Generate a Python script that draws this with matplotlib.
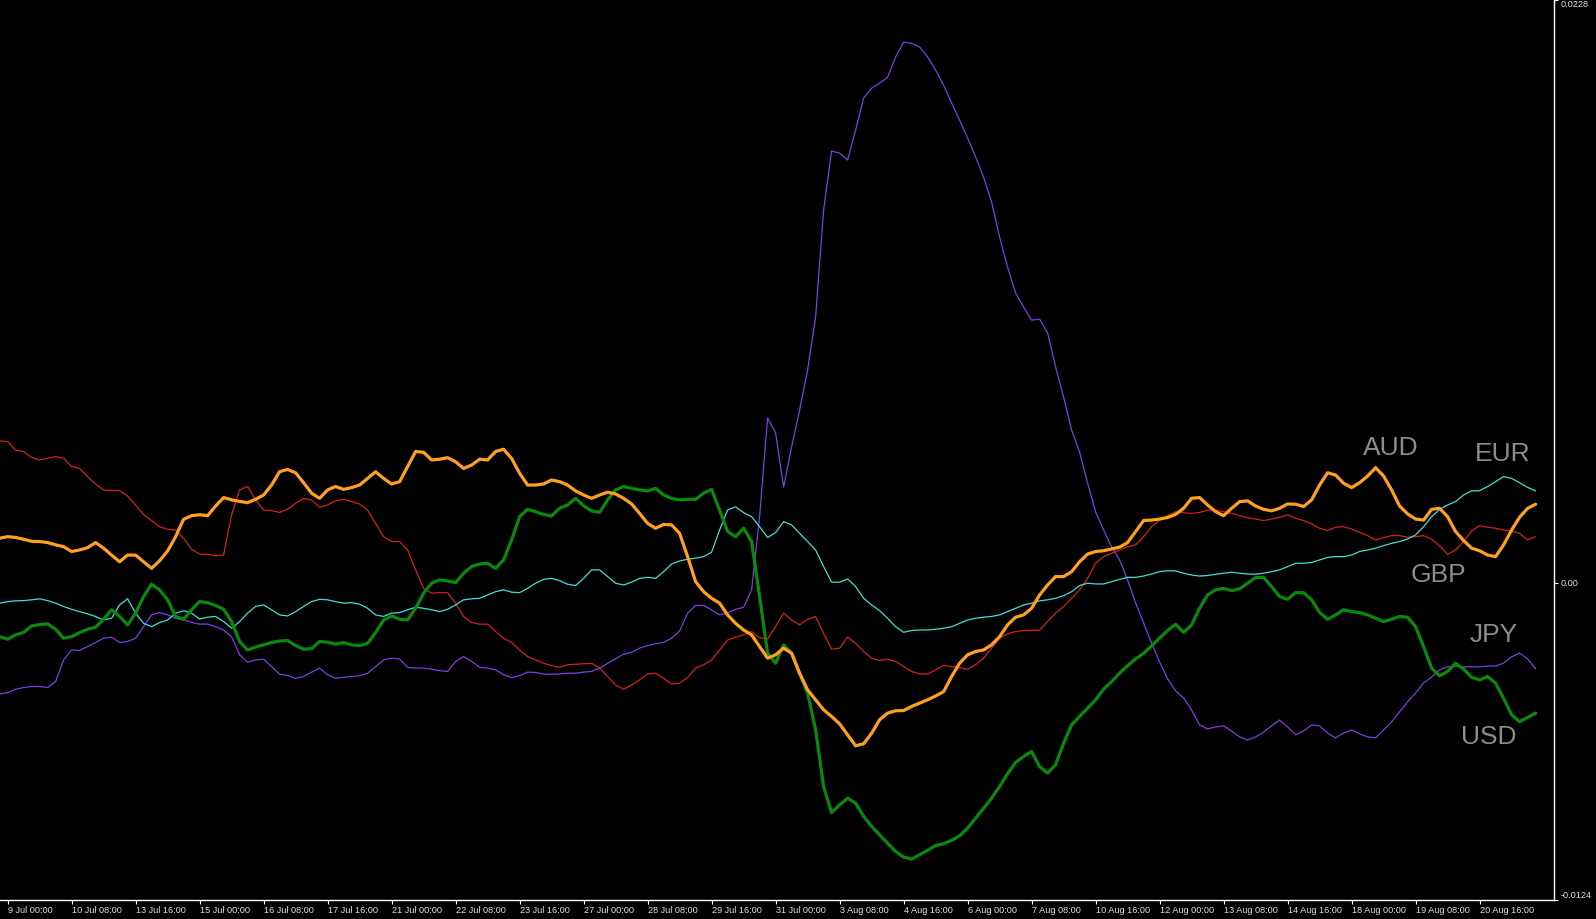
import numpy as np
import matplotlib
matplotlib.use("Agg")
import matplotlib.pyplot as plt

plt.rcParams['font.family'] = ['Liberation Sans', 'DejaVu Sans']

# H4 bars, index -1 (8 Jul 20:00) .. 191 (21 Aug 20:00); values in units of 1e-4
SCALE = 1e-4
FIRST_BAR = -1

tick_bars = list(range(0, 185, 8))
tick_labels = ["9 Jul 00:00", "10 Jul 08:00", "13 Jul 16:00", "15 Jul 00:00", "16 Jul 08:00",
               "17 Jul 16:00", "21 Jul 00:00", "22 Jul 08:00", "23 Jul 16:00", "27 Jul 00:00",
               "28 Jul 08:00", "29 Jul 16:00", "31 Jul 00:00", "3 Aug 08:00", "4 Aug 16:00",
               "6 Aug 00:00", "7 Aug 08:00", "10 Aug 16:00", "12 Aug 00:00", "13 Aug 08:00",
               "14 Aug 16:00", "18 Aug 00:00", "19 Aug 08:00", "20 Aug 16:00"]

y_ticks = [0.0228, 0.0, -0.0124]
y_tick_labels = ["0.0228", "0.00", "-0.0124"]

AUD = [17.5, 18.1, 17.8, 17.1, 16.3, 16.2, 15.8, 14.9, 14.2, 12.3, 12.9,
       13.8, 15.8, 13.6, 10.9, 8.3, 10.9, 10.9, 8.3, 5.7, 8.7,
       12.5, 18.1, 24.9, 26.3, 26.7, 26.3, 30.1, 33.4, 32.5, 31.9,
       31.4, 32.7, 34.4, 38.3, 43.5, 44.4, 43.1, 39.2, 35.1, 33.1,
       36.4, 37.7, 36.6, 37.3, 38.3, 40.9, 43.5, 40.9, 38.7, 39.6,
       45.5, 51.4, 51.1, 48.1, 48.4, 49.0, 47.4, 44.8, 46.1, 48.4,
       48.1, 51.4, 52.3, 48.7, 42.9, 38.3, 38.3, 38.7, 40.3, 39.6,
       38.3, 36.0, 34.4, 33.1, 34.4, 35.5, 34.8, 33.1, 30.9, 27.2,
       23.3, 21.4, 22.9, 22.7, 19.4, 10.3, 0.5, -3.4, -6.0, -7.9,
       -12.5, -15.8, -18.4, -20.3, -24.9, -29.4, -28.1, -25.5, -27.5, -35.3,
       -41.8, -45.7, -49.6, -52.2, -55.1, -59.4, -63.7, -62.9, -58.8, -53.5,
       -50.9, -50.0, -49.9, -48.3, -47.0, -45.7, -44.2, -42.5, -36.6, -31.4,
       -28.1, -26.8, -26.2, -24.2, -21.0, -16.4, -13.4, -12.5, -9.9, -4.7,
       -0.8, 2.5, 2.5, 4.4, 8.3, 11.3, 12.3, 12.6, 13.3, 14.0,
       15.8, 20.1, 24.4, 24.6, 25.0, 25.6, 26.8, 29.2, 33.1, 33.4,
       30.5, 27.9, 26.3, 29.2, 31.8, 32.1, 30.1, 28.8, 28.2, 29.2,
       30.9, 30.8, 29.9, 32.5, 38.3, 43.1, 42.2, 39.0, 37.3, 39.2,
       41.8, 45.1, 41.8, 36.4, 30.1, 27.0, 25.0, 24.6, 28.8, 29.2,
       25.9, 20.1, 16.6, 13.6, 12.6, 10.9, 10.3, 14.9, 20.7, 25.7,
       29.2, 30.8]

USD = [-21.0, -22.0, -20.3, -19.3, -16.8, -16.3, -16.0, -18.1, -21.6, -21.0, -19.4,
       -18.1, -17.3, -14.2, -10.5, -13.1, -16.4, -11.8, -5.3, -0.5, -2.7,
       -6.6, -13.1, -14.2, -10.5, -7.3, -7.7, -8.8, -10.3, -15.1, -22.9,
       -26.2, -25.1, -24.2, -23.3, -22.7, -22.5, -24.5, -25.9, -25.7, -22.9,
       -23.2, -23.9, -23.3, -24.2, -24.5, -23.6, -19.4, -14.5, -12.9, -14.2,
       -14.5, -9.9, -4.0, -0.1, 1.2, 0.8, 0.1, 3.8, 6.4, 7.4,
       7.7, 5.7, 9.0, 16.8, 25.9, 28.8, 27.9, 26.8, 26.2, 29.2,
       30.5, 33.1, 30.2, 28.2, 27.6, 32.5, 36.4, 37.7, 37.0, 36.4,
       36.0, 37.0, 34.4, 33.1, 32.5, 32.7, 32.7, 35.1, 36.6, 28.5,
       20.1, 18.1, 21.4, 16.2, -5.3, -27.5, -31.4, -24.2, -27.5, -35.3,
       -43.1, -57.4, -79.6, -89.8, -86.8, -84.2, -86.1, -91.3, -95.2, -98.5,
       -101.8, -105.0, -107.2, -108.0, -106.3, -104.6, -102.7, -102.0, -100.7, -98.9,
       -95.9, -92.0, -88.1, -84.2, -79.6, -74.6, -70.2, -67.9, -65.9, -71.8,
       -74.4, -71.1, -62.7, -55.5, -52.2, -49.0, -45.7, -41.6, -38.6, -35.3,
       -32.4, -29.7, -27.5, -24.6, -21.6, -18.6, -16.2, -19.3, -16.4, -9.9,
       -4.7, -2.7, -2.1, -3.0, -2.3, -0.1, 2.1, 2.2, -1.4, -5.3,
       -6.4, -3.8, -3.8, -6.6, -11.5, -14.2, -12.5, -10.5, -11.2, -11.6,
       -12.5, -13.8, -15.1, -14.2, -13.1, -13.4, -17.1, -24.9, -33.3, -36.3,
       -34.6, -31.4, -33.7, -36.9, -37.9, -36.6, -39.2, -45.1, -51.6, -54.2,
       -52.6, -50.9]

GBP = [55.6, 55.3, 52.0, 51.4, 49.1, 48.1, 48.8, 49.4, 48.8, 45.5, 44.8,
       41.6, 38.6, 36.4, 36.2, 36.1, 34.0, 30.5, 26.8, 24.4, 22.0,
       21.0, 20.7, 17.5, 13.2, 11.3, 11.2, 10.6, 11.0, 26.6, 36.4,
       37.7, 32.5, 28.5, 28.3, 27.6, 28.8, 31.2, 33.1, 32.5, 29.6,
       30.5, 32.1, 32.7, 31.8, 30.9, 28.5, 23.3, 18.1, 16.2, 16.2,
       12.9, 5.1, -2.1, -4.0, -3.8, -3.8, -7.9, -13.1, -15.5, -16.1,
       -16.1, -19.0, -21.6, -23.3, -26.2, -28.8, -30.1, -31.4, -32.3, -33.0,
       -32.0, -31.8, -31.6, -31.4, -33.3, -36.6, -39.9, -41.6, -39.9, -37.9,
       -35.6, -35.3, -37.3, -39.5, -39.2, -37.0, -33.3, -32.0, -30.1, -26.2,
       -22.3, -21.2, -20.3, -19.0, -21.4, -21.9, -17.1, -11.8, -14.5, -16.4,
       -14.2, -13.1, -19.7, -25.9, -25.5, -21.2, -23.6, -26.8, -29.4, -30.3,
       -29.8, -30.7, -32.7, -34.6, -35.6, -35.6, -34.0, -32.3, -32.7, -33.1,
       -33.7, -32.0, -29.4, -25.5, -21.6, -19.9, -19.0, -18.6, -18.6, -18.4,
       -15.1, -11.8, -9.2, -6.0, -2.7, 1.8, 7.7, 10.3, 11.6, 12.9,
       14.2, 14.9, 18.1, 22.0, 24.6, 26.3, 27.8, 27.5, 27.2, 27.6,
       28.5, 28.5, 27.9, 27.2, 26.3, 25.5, 25.0, 24.4, 25.0, 25.7,
       26.6, 25.3, 24.4, 23.1, 21.4, 20.5, 21.8, 22.0, 21.1, 19.8,
       18.5, 16.8, 17.7, 18.5, 18.5, 17.9, 18.1, 18.5, 17.1, 14.5,
       11.2, 12.9, 16.2, 20.3, 22.4, 21.8, 21.4, 20.7, 20.3, 19.4,
       16.8, 18.1]

EUR = [-7.9, -7.3, -7.0, -6.9, -6.6, -6.2, -6.9, -7.9, -9.2, -10.3, -11.2,
       -12.1, -13.1, -14.5, -13.8, -8.6, -6.2, -11.8, -15.8, -17.1, -15.5,
       -14.5, -11.8, -10.9, -11.8, -14.1, -13.4, -13.1, -15.1, -17.7, -15.1,
       -11.8, -9.2, -8.6, -10.5, -12.5, -12.9, -11.2, -9.2, -7.3, -6.4,
       -6.6, -7.3, -7.9, -7.7, -8.3, -9.9, -12.5, -13.1, -11.8, -11.6,
       -10.5, -9.5, -9.9, -10.5, -11.2, -10.3, -8.6, -6.6, -6.2, -6.0,
       -4.7, -3.4, -2.7, -3.6, -3.8, -2.1, -0.1, 1.4, 1.8, 0.9,
       -0.5, -1.0, 1.8, 5.1, 5.1, 2.5, -0.1, -0.8, 0.3, 1.8,
       2.2, 1.8, 4.4, 7.4, 8.6, 9.3, 9.7, 10.3, 12.0, 20.7,
       28.5, 29.8, 27.5, 25.9, 22.0, 17.8, 19.7, 24.0, 22.7, 19.4,
       16.2, 12.9, 6.4, 0.3, 0.3, 1.6, -1.4, -6.0, -8.6, -10.8,
       -13.8, -17.1, -19.3, -18.6, -18.4, -18.4, -18.1, -17.7, -17.1, -15.8,
       -14.5, -13.8, -13.4, -13.1, -12.5, -11.2, -9.9, -8.6, -7.9, -7.0,
       -6.6, -6.0, -5.0, -3.4, -1.0, -0.1, -0.4, -0.4, 0.5, 1.4,
       2.2, 2.2, 2.7, 3.5, 4.4, 4.8, 4.7, 3.8, 3.1, 2.7,
       2.9, 3.4, 3.8, 4.2, 3.8, 3.5, 3.4, 3.8, 4.4, 5.1,
       6.4, 7.7, 7.7, 8.0, 9.0, 10.0, 10.3, 10.3, 10.9, 12.3,
       12.9, 13.6, 14.6, 15.5, 16.2, 17.2, 18.8, 22.0, 25.9, 28.8,
       30.5, 31.8, 34.4, 36.0, 36.1, 37.7, 39.6, 41.6, 40.9, 39.2,
       37.4, 36.0]

JPY = [-43.4, -42.9, -41.6, -40.9, -40.5, -40.5, -40.9, -38.6, -30.1, -26.2, -26.4,
       -24.9, -23.3, -21.6, -21.2, -23.3, -22.9, -21.6, -17.1, -12.5, -11.6,
       -12.5, -13.8, -14.5, -15.4, -16.1, -16.1, -17.1, -18.4, -21.0, -28.1,
       -31.0, -30.1, -29.8, -32.7, -35.7, -36.2, -37.3, -36.6, -34.9, -33.3,
       -35.9, -37.3, -36.9, -36.6, -36.3, -35.3, -32.7, -30.1, -29.4, -29.8,
       -33.0, -33.3, -33.3, -33.7, -34.3, -34.6, -30.7, -28.8, -30.7, -33.0,
       -33.3, -34.0, -35.9, -37.0, -36.3, -34.9, -35.0, -35.6, -35.7, -35.6,
       -35.3, -35.3, -34.9, -34.6, -33.3, -31.4, -29.7, -27.9, -27.1, -25.5,
       -24.5, -23.8, -23.3, -21.6, -18.8, -11.8, -8.8, -8.8, -10.5, -12.5,
       -11.8, -10.3, -9.5, -2.7, 25.9, 64.5, 58.7, 37.5, 53.2, 67.6,
       83.3, 104.0, 145.8, 168.9, 168.1, 165.4, 177.1, 189.6, 193.5, 195.5,
       197.8, 205.7, 211.5, 211.1, 209.6, 205.7, 200.6, 194.7, 187.7, 181.0,
       174.0, 166.6, 158.7, 149.0, 135.3, 123.6, 113.4, 107.9, 102.8, 103.2,
       97.8, 84.5, 72.7, 59.8, 51.2, 39.1, 27.8, 20.7, 14.1, 9.0,
       1.2, -7.8, -15.6, -23.5, -30.9, -37.5, -42.2, -45.0, -49.7, -55.5,
       -57.1, -56.3, -55.9, -57.9, -60.2, -61.4, -60.2, -58.3, -55.9, -53.6,
       -56.3, -59.4, -57.9, -55.5, -55.9, -58.7, -60.6, -58.7, -57.5, -59.0,
       -60.2, -60.6, -57.5, -54.3, -50.4, -46.5, -43.0, -39.1, -36.8, -34.0,
       -32.8, -32.5, -32.8, -32.8, -32.8, -32.5, -32.5, -31.3, -28.9, -27.4,
       -29.7, -33.6]

currencies = ["JPY", "GBP", "EUR", "USD", "AUD"]
values = {"JPY": JPY, "GBP": GBP, "EUR": EUR, "USD": USD, "AUD": AUD}
colors = {"JPY": "#7B3FE4", "GBP": "#D42020", "EUR": "#40E0D0", "USD": "#0A8A0A", "AUD": "#FFA01E"}
widths = {"JPY": 0.9, "GBP": 0.9, "EUR": 0.9, "USD": 2.3, "AUD": 2.3}

# label anchor positions (bar index, value)
label_pos = {"AUD": (172.9, 0.00528), "EUR": (186.9, 0.00504), "GBP": (178.9, 0.00031),
             "JPY": (185.7, -0.00203), "USD": (185.1, -0.00602)}

W, H = 1596, 919
fig = plt.figure(figsize=(W / 100, H / 100), dpi=100, facecolor="black")
ax = fig.add_axes([0, 19 / H, 1554 / W, 900 / H])
ax.set_facecolor("black")

for name in currencies:
    v = np.asarray(values[name], dtype=float) * SCALE
    x = np.arange(len(v)) + FIRST_BAR
    ax.plot(x, v, color=colors[name], lw=widths[name], solid_joinstyle="round",
            solid_capstyle="round")

for name in ["AUD", "EUR", "GBP", "JPY", "USD"]:
    px, py = label_pos[name]
    ax.text(px, py, name, color="#8C8C8C", fontsize=19, ha="center", va="center",
            family=["Liberation Sans", "DejaVu Sans"])

ax.set_xlim(-0.95, 193.3)
ax.set_ylim(-0.0124, 0.0228)

for s in ["left", "top"]:
    ax.spines[s].set_visible(False)
for s in ["right", "bottom"]:
    ax.spines[s].set_color("white")
    ax.spines[s].set_linewidth(1.0)

ax.yaxis.tick_right()
ax.set_yticks(y_ticks)
ax.set_yticklabels(y_tick_labels)
ax.set_xticks(tick_bars)
ax.set_xticklabels(tick_labels)
for lab in ax.get_xticklabels():
    lab.set_horizontalalignment("left")
ylabs = ax.get_yticklabels()
ylabs[0].set_verticalalignment("top")
ylabs[2].set_verticalalignment("bottom")

ax.tick_params(axis="both", colors="white", labelcolor="#E0E0E0", labelsize=6.6,
               length=3, width=0.8, pad=1.5)

fig.savefig("out.png", dpi=100, facecolor="black")
